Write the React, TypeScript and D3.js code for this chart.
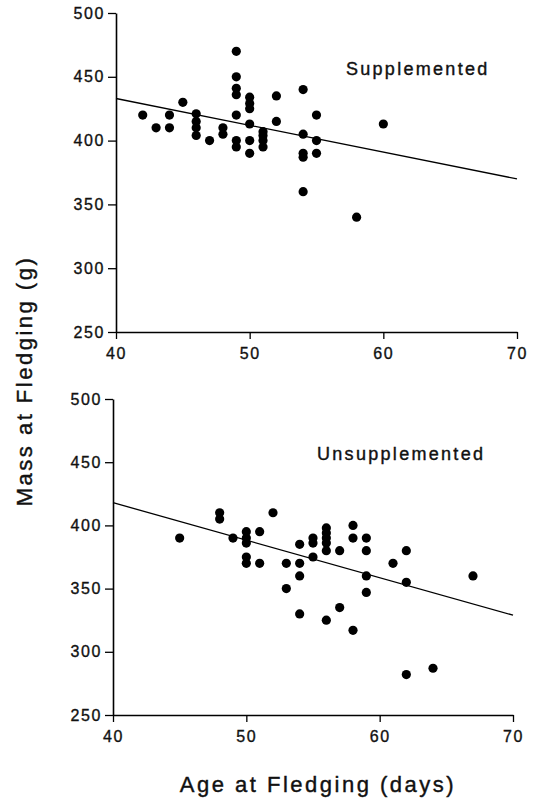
import React, { useEffect, useRef } from "react";
import * as d3 from "d3";

// age at fledging (days) and mass at fledging (g)
const supplementedAge = [
  42, 43, 44, 44, 45, 46, 46, 46, 46, 47, 48, 48, 49, 49, 49, 49, 49, 49, 49,
  50, 50, 50, 50, 50, 50, 51, 51, 51, 51, 52, 52, 54, 54, 54, 54, 54, 55, 55,
  55, 58, 60,
];
const supplementedMass = [
  420, 410, 420, 410, 430, 421, 415, 410, 404, 400, 410, 405, 470, 450, 441,
  436, 420, 400, 395, 434, 429, 425, 413, 400, 390, 407, 404, 400, 395, 435,
  415, 440, 405, 390, 387, 360, 420, 400, 390, 340, 413,
];

const unsupplementedAge = [
  45, 48, 48, 49, 50, 50, 50, 50, 50, 51, 51, 52, 53, 53, 54, 54, 54, 54, 55,
  55, 55, 56, 56, 56, 56, 56, 56, 57, 57, 58, 58, 58, 59, 59, 59, 59, 61, 62,
  62, 62, 64, 67,
];
const unsupplementedMass = [
  390, 410, 405, 390, 395, 390, 386, 375, 370, 395, 370, 410, 370, 350, 385,
  370, 360, 330, 390, 386, 375, 398, 394, 390, 386, 380, 325, 380, 335, 400,
  390, 317, 390, 380, 360, 347, 370, 380, 355, 282, 287, 360,
];

// fitted lines, value at each end of the age axis
const fitAge = [40, 70];
const supplementedFit = [433, 370];
const unsupplementedFit = [418, 329];

const ageTicks = [40, 50, 60, 70];
const massTicks = [250, 300, 350, 400, 450, 500];

const FONT = "'Liberation Sans', Arial, Helvetica, sans-serif";

export default function App() {
  const ref = useRef<SVGSVGElement | null>(null);

  useEffect(() => {
    const svg = d3.select(ref.current);
    svg.selectAll("*").remove();

    const panels = [
      {
        name: "Supplemented",
        age: supplementedAge,
        mass: supplementedMass,
        fit: supplementedFit,
        xRange: [116, 517],
        yRange: [332, 13],
        labelAt: [57.2, 451.5],
      },
      {
        name: "Unsupplemented",
        age: unsupplementedAge,
        mass: unsupplementedMass,
        fit: unsupplementedFit,
        xRange: [113, 513],
        yRange: [715, 399],
        labelAt: [55.3, 451.8],
      },
    ];

    panels.forEach((p) => {
      const x = d3.scaleLinear().domain([40, 70]).range(p.xRange);
      const y = d3.scaleLinear().domain([250, 500]).range(p.yRange);
      const g = svg.append("g");

      // x axis
      const xa = g
        .append("g")
        .attr("transform", `translate(0,${p.yRange[0]})`)
        .call(
          d3
            .axisBottom(x)
            .tickValues(ageTicks)
            .tickSize(7)
            .tickSizeOuter(0)
            .tickPadding(9)
        );
      // y axis
      const ya = g
        .append("g")
        .attr("transform", `translate(${p.xRange[0]},0)`)
        .call(
          d3
            .axisLeft(y)
            .tickValues(massTicks)
            .tickSize(8)
            .tickSizeOuter(0)
            .tickPadding(3)
        );

      [xa, ya].forEach((a) => {
        a.select(".domain").attr("stroke", "#000").attr("stroke-width", 1.6);
        a.selectAll(".tick line").attr("stroke", "#000").attr("stroke-width", 1.3);
        a.selectAll("text")
          .attr("fill", "#111")
          .attr("stroke", "#111")
          .attr("stroke-width", 0.35)
          .style("font-family", FONT)
          .style("font-size", "16px")
          .style("letter-spacing", "1.6px");
      });

      // regression line
      const line = d3
        .line<number>()
        .x((d, i) => x(fitAge[i]))
        .y((d) => y(d));
      g.append("path")
        .datum(p.fit)
        .attr("d", line)
        .attr("fill", "none")
        .attr("stroke", "#000")
        .attr("stroke-width", 1.3);

      // points
      g.append("g")
        .selectAll("circle")
        .data(p.age)
        .join("circle")
        .attr("cx", (d) => x(d))
        .attr("cy", (d, i) => y(p.mass[i]))
        .attr("r", 4.6)
        .attr("fill", "#000");

      g.append("text")
        .attr("x", x(p.labelAt[0]))
        .attr("y", y(p.labelAt[1]))
        .attr("fill", "#111")
        .attr("stroke", "#111")
        .attr("stroke-width", 0.4)
        .style("font-family", FONT)
        .style("font-size", "18px")
        .style("letter-spacing", "2.3px")
        .text(p.name);
    });

    svg
      .append("text")
      .attr("x", 318)
      .attr("y", 792)
      .attr("text-anchor", "middle")
      .attr("fill", "#111")
      .attr("stroke", "#111")
      .attr("stroke-width", 0.4)
      .style("font-family", FONT)
      .style("font-size", "22px")
      .style("letter-spacing", "2.5px")
      .text("Age at Fledging (days)");

    svg
      .append("text")
      .attr("transform", "translate(32,381) rotate(-90)")
      .attr("text-anchor", "middle")
      .attr("fill", "#111")
      .attr("stroke", "#111")
      .attr("stroke-width", 0.4)
      .style("font-family", FONT)
      .style("font-size", "22px")
      .style("letter-spacing", "2.5px")
      .text("Mass at Fledging (g)");
  }, []);

  return (
    <svg
      ref={ref}
      width={533}
      height={806}
      style={{ position: "absolute", left: 0, top: 0, background: "#fff" }}
    />
  );
}
